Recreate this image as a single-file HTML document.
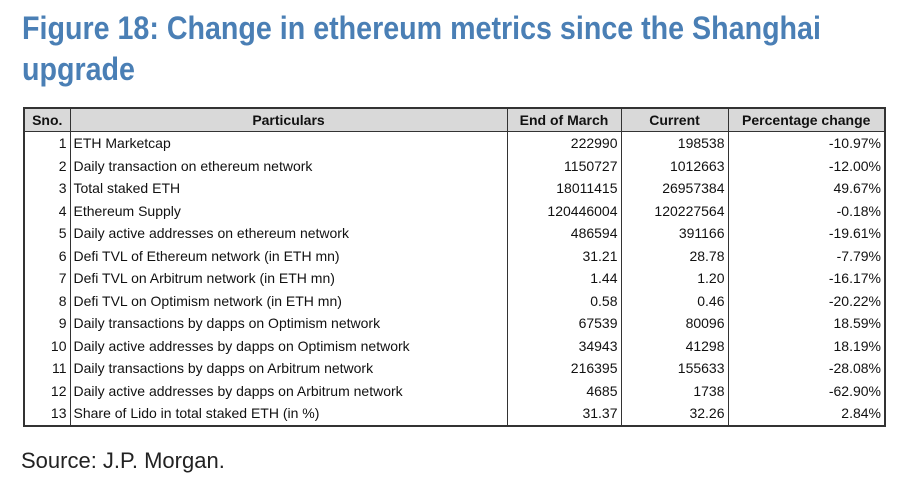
<!DOCTYPE html>
<html><head><meta charset="utf-8"><style>
body{margin:0;width:907px;height:485px;background:#fff;overflow:hidden;font-family:"Liberation Sans",sans-serif;position:relative}
.t{position:absolute;left:22px;color:#4a7fb5;font-weight:bold;font-size:32px;white-space:nowrap;transform-origin:0 0;transform:scaleX(0.895)}
.src{position:absolute;left:21px;top:448px;font-size:22px;color:#222;transform-origin:0 0;transform:scaleX(1.0);white-space:nowrap}
table{position:absolute;left:23px;top:107px;border-collapse:collapse;font-size:14px;color:#111;border:2px solid #333}
td,th{padding:0 3px;height:22.5px;line-height:22px;white-space:nowrap;border-left:1.5px solid #333;border-right:1.5px solid #333}
th{background:#d9d9d9;font-weight:bold;height:22px;border-bottom:1.5px solid #333;text-align:center}
td{text-align:right}
td.p{text-align:left}
</style></head><body>
<div class="t" style="top:10px">Figure 18: Change in ethereum metrics since the Shanghai</div>
<div class="t" style="top:51px">upgrade</div>
<table>
<colgroup><col style="width:46px"><col style="width:437px"><col style="width:114px"><col style="width:107px"><col style="width:157px"></colgroup>
<tr><th>Sno.</th><th>Particulars</th><th>End of March</th><th>Current</th><th>Percentage change</th></tr>
<tr><td>1</td><td class="p">ETH Marketcap</td><td>222990</td><td>198538</td><td>-10.97%</td></tr>
<tr><td>2</td><td class="p">Daily transaction on ethereum network</td><td>1150727</td><td>1012663</td><td>-12.00%</td></tr>
<tr><td>3</td><td class="p">Total staked ETH</td><td>18011415</td><td>26957384</td><td>49.67%</td></tr>
<tr><td>4</td><td class="p">Ethereum Supply</td><td>120446004</td><td>120227564</td><td>-0.18%</td></tr>
<tr><td>5</td><td class="p">Daily active addresses on ethereum network</td><td>486594</td><td>391166</td><td>-19.61%</td></tr>
<tr><td>6</td><td class="p">Defi TVL of Ethereum network (in ETH mn)</td><td>31.21</td><td>28.78</td><td>-7.79%</td></tr>
<tr><td>7</td><td class="p">Defi TVL on Arbitrum network (in ETH mn)</td><td>1.44</td><td>1.20</td><td>-16.17%</td></tr>
<tr><td>8</td><td class="p">Defi TVL on Optimism network (in ETH mn)</td><td>0.58</td><td>0.46</td><td>-20.22%</td></tr>
<tr><td>9</td><td class="p">Daily transactions by dapps on Optimism network</td><td>67539</td><td>80096</td><td>18.59%</td></tr>
<tr><td>10</td><td class="p">Daily active addresses by dapps on Optimism network</td><td>34943</td><td>41298</td><td>18.19%</td></tr>
<tr><td>11</td><td class="p">Daily transactions by dapps on Arbitrum network</td><td>216395</td><td>155633</td><td>-28.08%</td></tr>
<tr><td>12</td><td class="p">Daily active addresses by dapps on Arbitrum network</td><td>4685</td><td>1738</td><td>-62.90%</td></tr>
<tr><td>13</td><td class="p">Share of Lido in total staked ETH (in %)</td><td>31.37</td><td>32.26</td><td>2.84%</td></tr>
</table>
<div class="src">Source: J.P. Morgan.</div>
</body></html>
